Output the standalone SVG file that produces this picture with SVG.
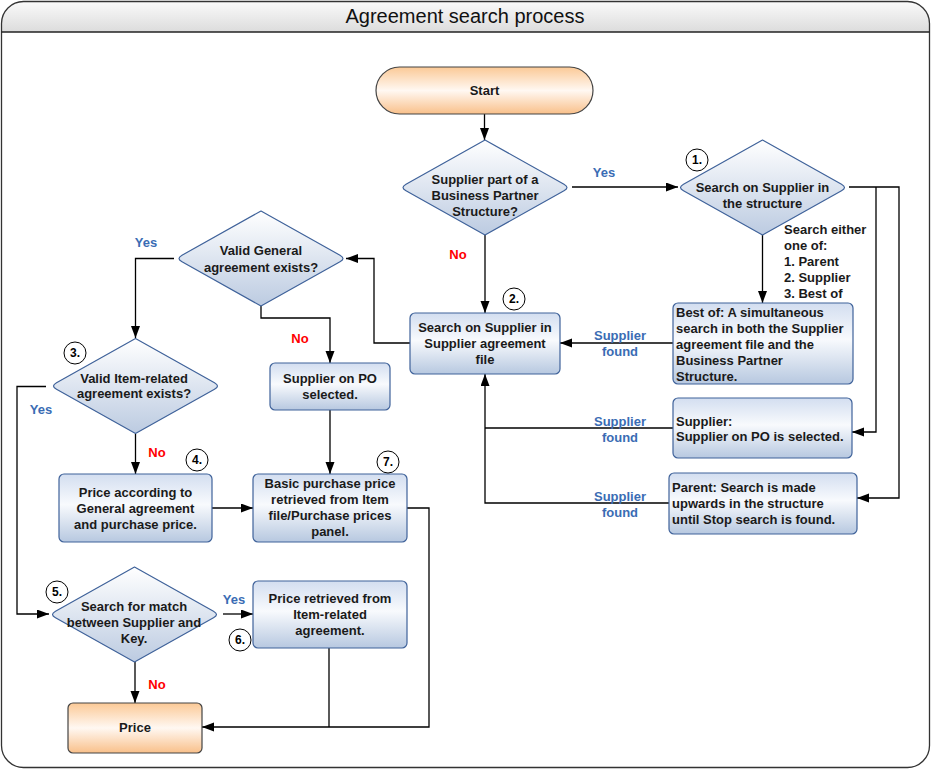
<svg xmlns="http://www.w3.org/2000/svg" xmlns:xlink="http://www.w3.org/1999/xlink" width="932" height="771" viewBox="0 0 932 771">
<defs>
<linearGradient id="gHead" x1="0" y1="0" x2="0" y2="1"><stop offset="0" stop-color="#fafafa"/><stop offset="1" stop-color="#dcdcdc"/></linearGradient>
<linearGradient id="gOrange" x1="0" y1="0" x2="0" y2="1"><stop offset="0" stop-color="#fbc996"/><stop offset="0.5" stop-color="#fff8f2"/><stop offset="1" stop-color="#f9c08a"/></linearGradient>
<linearGradient id="gBox" x1="0" y1="0" x2="0" y2="1"><stop offset="0" stop-color="#d3def0"/><stop offset="0.45" stop-color="#f8fafd"/><stop offset="1" stop-color="#b7c8e0"/></linearGradient>
<linearGradient id="gDia" x1="0" y1="0" x2="0" y2="1"><stop offset="0" stop-color="#ffffff"/><stop offset="1" stop-color="#bccbe1"/></linearGradient>
<path id="dia" d="M0,-47.5 L79,-3.35 Q85,0 79,3.35 L0,47.5 L-79,3.35 Q-85,0 -79,-3.35 Z"/>
<marker id="arr" markerUnits="userSpaceOnUse" markerWidth="13" markerHeight="10" refX="12" refY="4.5" orient="auto"><path d="M0,0 L12,4.5 L0,9 Z" fill="#000"/></marker>
</defs>
<style>
.t{font-family:"Liberation Sans",Arial,sans-serif;font-size:13px;font-weight:bold;fill:#1a1a1a}
.c{text-anchor:middle}
.yes{font-family:"Liberation Sans",Arial,sans-serif;font-size:13px;font-weight:bold;fill:#3a6cb4;text-anchor:middle}
.no{font-family:"Liberation Sans",Arial,sans-serif;font-size:13px;font-weight:bold;fill:#ff0000;text-anchor:middle}
.box{fill:url(#gBox);stroke:#3f629a;stroke-width:1.2}
.dia{fill:url(#gDia);stroke:#3f629a;stroke-width:1.2;stroke-linejoin:round}
.term{fill:url(#gOrange);stroke:#444;stroke-width:1.2}
.num{fill:#fff;stroke:#000;stroke-width:1}
.nt{font-family:"Liberation Sans",Arial,sans-serif;font-size:12px;font-weight:bold;fill:#000;text-anchor:middle}
.ln{fill:none;stroke:#000;stroke-width:1.3}
.la{fill:none;stroke:#000;stroke-width:1.3;marker-end:url(#arr)}
</style>
<rect width="932" height="771" fill="#fff"/>
<g id="frame">
<path d="M1.5,32 V23.5 A22,22 0 0 1 23.5,1.5 H907.5 A22,22 0 0 1 929.5,23.5 V32 Z" fill="url(#gHead)"/>
<rect x="1.5" y="1.5" width="928" height="766" rx="22" ry="22" fill="none" stroke="#333" stroke-width="1.3"/>
<line x1="1.5" y1="32" x2="929.5" y2="32" stroke="#222" stroke-width="1.3"/>
<text x="465" y="23" font-family="'Liberation Sans',Arial,sans-serif" font-size="20" text-anchor="middle" fill="#111">Agreement search process</text>
</g>
<g id="connectors">
<path class="la" d="M484.5,114 V140"/>
<path class="la" d="M572,187 H678"/>
<path class="la" d="M485,235 V313"/>
<path class="la" d="M762.5,235 V303"/>
<path class="la" d="M849,187 H899 V498 H857"/>
<path class="la" d="M876,187 V432 H852"/>
<path class="la" d="M673,343 H560"/>
<path class="ln" d="M673,428 H485"/>
<path class="la" d="M669,503 H485 V374"/>
<path class="la" d="M410,343 H374 V258.5 H346"/>
<path class="la" d="M174,258.5 H135.5 V338"/>
<path class="la" d="M261,306 V318 H330 V363"/>
<path class="la" d="M330,410 V474"/>
<path class="la" d="M135.5,434 V474"/>
<path class="la" d="M212,508 H253"/>
<path class="la" d="M46,386.5 H17 V614 H49"/>
<path class="la" d="M223,614 H253"/>
<path class="la" d="M135,662 V703"/>
<path class="la" d="M407,508 H429 V727 H202"/>
<path class="ln" d="M329,648 V727"/>
<text class="yes" x="604" y="177">Yes</text>
<text class="no" x="458" y="259">No</text>
<text class="t" x="784" y="234">Search either</text>
<text class="t" x="784" y="250">one of:</text>
<text class="t" x="784" y="266">1. Parent</text>
<text class="t" x="784" y="282">2. Supplier</text>
<text class="t" x="784" y="298">3. Best of</text>
<text class="yes" x="620" y="340">Supplier</text>
<text class="yes" x="620" y="356">found</text>
<text class="yes" x="620" y="426">Supplier</text>
<text class="yes" x="620" y="442">found</text>
<text class="yes" x="620" y="501">Supplier</text>
<text class="yes" x="620" y="517">found</text>
<text class="yes" x="146" y="247">Yes</text>
<text class="no" x="300" y="343">No</text>
<text class="yes" x="41" y="414">Yes</text>
<text class="no" x="157" y="457">No</text>
<text class="yes" x="234" y="604">Yes</text>
<text class="no" x="157" y="689">No</text>
</g>
<g id="start">
<rect class="term" x="376" y="67" width="217" height="47" rx="23.5" ry="23.5"/>
<text class="t c" x="484.5" y="95">Start</text>
</g>
<g id="d-bps">
<use href="#dia" xlink:href="#dia" class="dia" x="485" y="187.5"/>
<text class="t c" x="485" y="184">Supplier part of a</text>
<text class="t c" x="485" y="200">Business Partner</text>
<text class="t c" x="485" y="216">Structure?</text>
</g>
<g id="d-structure">
<use href="#dia" xlink:href="#dia" class="dia" x="762.5" y="187.5"/>
<text class="t c" x="762.5" y="192">Search on Supplier in</text>
<text class="t c" x="762.5" y="208">the structure</text>
<circle class="num" cx="697" cy="160" r="11"/>
<text class="nt" x="697" y="164">1.</text>
</g>
<g id="b-bestof">
<rect class="box" x="673" y="303" width="180" height="81" rx="5"/>
<text class="t" x="676" y="317">Best of: A simultaneous</text>
<text class="t" x="676" y="333">search in both the Supplier</text>
<text class="t" x="676" y="349">agreement file and the</text>
<text class="t" x="676" y="365">Business Partner</text>
<text class="t" x="676" y="381">Structure.</text>
</g>
<g id="b-agreementfile">
<rect class="box" x="410" y="313" width="150" height="61" rx="5"/>
<text class="t c" x="485" y="332">Search on Supplier in</text>
<text class="t c" x="485" y="348">Supplier agreement</text>
<text class="t c" x="485" y="364">file</text>
<circle class="num" cx="514" cy="299" r="11"/>
<text class="nt" x="514" y="303">2.</text>
</g>
<g id="b-supplier">
<rect class="box" x="673" y="398" width="179" height="60" rx="5"/>
<text class="t" x="676" y="426">Supplier:</text>
<text class="t" x="676" y="441">Supplier on PO is selected.</text>
</g>
<g id="b-parent">
<rect class="box" x="669" y="473" width="188" height="61" rx="5"/>
<text class="t" x="672" y="492">Parent: Search is made</text>
<text class="t" x="672" y="508">upwards in the structure</text>
<text class="t" x="672" y="524">until Stop search is found.</text>
</g>
<g id="d-general">
<use href="#dia" xlink:href="#dia" class="dia" x="261" y="258.5"/>
<text class="t c" x="261" y="255">Valid General</text>
<text class="t c" x="261" y="272">agreement exists?</text>
</g>
<g id="b-supplierpo">
<rect class="box" x="270" y="363" width="120" height="47" rx="5"/>
<text class="t c" x="330" y="383">Supplier on PO</text>
<text class="t c" x="330" y="399">selected.</text>
</g>
<g id="d-itemrelated">
<use href="#dia" xlink:href="#dia" class="dia" x="135.5" y="386"/>
<text class="t c" x="134" y="383">Valid Item-related</text>
<text class="t c" x="134" y="398">agreement exists?</text>
<circle class="num" cx="75" cy="353" r="11"/>
<text class="nt" x="75" y="357">3.</text>
</g>
<g id="b-priceacc">
<rect class="box" x="59" y="474" width="153" height="68" rx="5"/>
<text class="t c" x="135.5" y="497">Price according to</text>
<text class="t c" x="135.5" y="513">General agreement</text>
<text class="t c" x="135.5" y="529">and purchase price.</text>
<circle class="num" cx="197" cy="460" r="11"/>
<text class="nt" x="197" y="464">4.</text>
</g>
<g id="b-basic">
<rect class="box" x="253" y="474" width="154" height="68" rx="5"/>
<text class="t c" x="330" y="488">Basic purchase price</text>
<text class="t c" x="330" y="504">retrieved from Item</text>
<text class="t c" x="330" y="520">file/Purchase prices</text>
<text class="t c" x="330" y="536">panel.</text>
<circle class="num" cx="388" cy="462" r="11"/>
<text class="nt" x="388" y="466">7.</text>
</g>
<g id="d-match">
<use href="#dia" xlink:href="#dia" class="dia" x="134.5" y="614.5"/>
<text class="t c" x="134" y="611">Search for match</text>
<text class="t c" x="134" y="627">between Supplier and</text>
<text class="t c" x="134" y="643">Key.</text>
<circle class="num" cx="57" cy="592" r="11"/>
<text class="nt" x="57" y="596">5.</text>
</g>
<g id="b-priceret">
<rect class="box" x="253" y="581" width="154" height="67" rx="5"/>
<text class="t c" x="330" y="603">Price retrieved from</text>
<text class="t c" x="330" y="619">Item-related</text>
<text class="t c" x="330" y="635">agreement.</text>
<circle class="num" cx="240" cy="640" r="11"/>
<text class="nt" x="240" y="644">6.</text>
</g>
<g id="price">
<rect class="term" x="68" y="703" width="134" height="50" rx="5"/>
<text class="t c" x="135" y="732">Price</text>
</g>
</svg>
